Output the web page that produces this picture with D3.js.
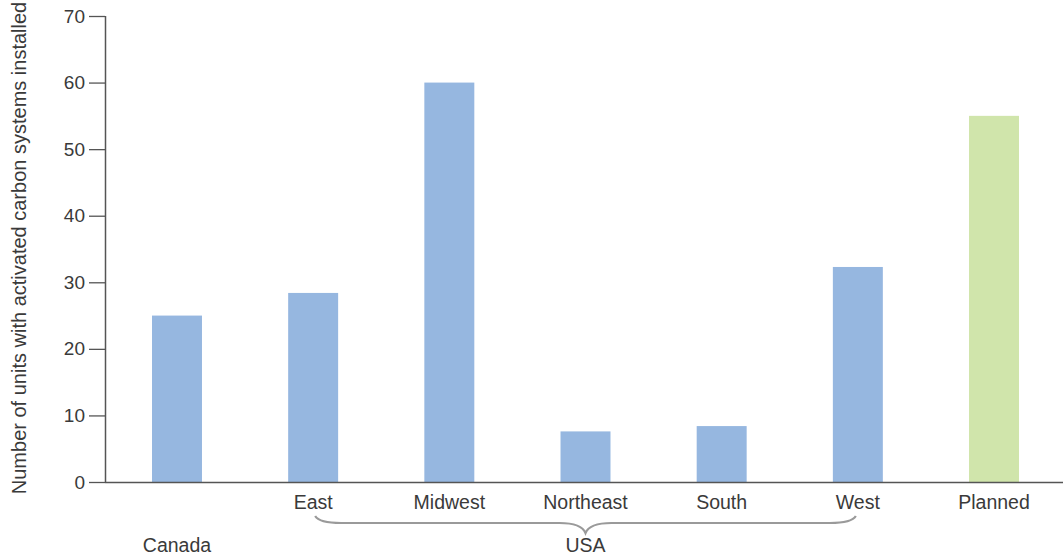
<!DOCTYPE html>
<html><head><meta charset="utf-8">
<script src="https://cdn.jsdelivr.net/npm/d3@7"></script>
<style>
html,body{margin:0;padding:0;background:#fff;}
svg{display:block;}
text{font-family:"Liberation Sans","DejaVu Sans",sans-serif;fill:#3a3a3a;}
</style></head>
<body>
<svg id="chart" width="1063" height="559"></svg>
<script>
const categories = ["Canada","East","Midwest","Northeast","South","West","Planned"];
const values = [25, 28.4, 60, 7.6, 8.4, 32.3, 55];
const groups = ["other","usa","usa","usa","usa","usa","planned"];
const yTicks = [0,10,20,30,40,50,60,70];
const yTitle = "Number of units with activated carbon systems installed";
const groupLabel = "USA";

const svg = d3.select("#chart");
const axisX = 105, baseY = 482, topY = 16;

const x = d3.scaleBand().domain(categories).range([108.9, 1062.1]).paddingInner(0.633).paddingOuter(0.3165);
const y = d3.scaleLinear().domain([0,70]).range([baseY, topY]);

const colors = {other:"#96b7e0", usa:"#96b7e0", planned:"#d0e5ab"};

svg.selectAll("rect.bar").data(categories).join("rect")
  .attr("class","bar")
  .attr("x", d => x(d))
  .attr("width", x.bandwidth())
  .attr("y", (d,i) => y(values[i]))
  .attr("height", (d,i) => baseY - y(values[i]))
  .attr("fill", (d,i) => colors[groups[i]]);

// y axis
const yAxis = svg.append("g").attr("transform", `translate(${axisX},0)`)
  .call(d3.axisLeft(y).tickValues(yTicks).tickSize(16).tickPadding(4));
yAxis.select(".domain").attr("stroke","#555").attr("stroke-width",1.5).attr("d", `M0.5,${topY}V${baseY}`);
yAxis.selectAll(".tick line").attr("stroke","#555").attr("stroke-width",1.3);
yAxis.selectAll(".tick text").style("font-size","19px").attr("fill","#3a3a3a");

// x axis baseline
svg.append("line").attr("x1", axisX).attr("x2", 1063).attr("y1", baseY+0.5).attr("y2", baseY+0.5)
  .attr("stroke","#555").attr("stroke-width",1.5);

// category labels
svg.selectAll("text.cat").data(categories).join("text")
  .attr("class","cat")
  .attr("x", d => x(d) + x.bandwidth()/2)
  .attr("y", (d,i) => groups[i] === "other" ? 552 : 509)
  .attr("text-anchor","middle")
  .style("font-size","19.5px")
  .text(d => d);

// brace for USA
const usaCats = categories.filter((d,i) => groups[i] === "usa");
const bx0 = x(usaCats[0]) + x.bandwidth()/2 + 2;
const bx1 = x(usaCats[usaCats.length-1]) + x.bandwidth()/2 - 2;
const bm = (bx0 + bx1)/2;
const by0 = 516, by1 = 523, by2 = 533;
const p = d3.path();
p.moveTo(bx0, by0);
p.quadraticCurveTo(bx0 + 4, by1, bx0 + 26, by1);
p.lineTo(bm - 26, by1);
p.quadraticCurveTo(bm - 4, by1, bm, by2);
p.quadraticCurveTo(bm + 4, by1, bm + 26, by1);
p.lineTo(bx1 - 26, by1);
p.quadraticCurveTo(bx1 - 4, by1, bx1, by0);
svg.append("path").attr("d", p.toString()).attr("fill","none").attr("stroke","#9a9a9a").attr("stroke-width",2.2);

svg.append("text").attr("x", bm).attr("y", 552).attr("text-anchor","middle")
  .style("font-size","19.5px").text(groupLabel);

// y title
svg.append("text")
  .attr("transform", `translate(26,248) rotate(-90)`)
  .attr("text-anchor","middle")
  .style("font-size","20px")
  .text(yTitle);
</script>
</body></html>
